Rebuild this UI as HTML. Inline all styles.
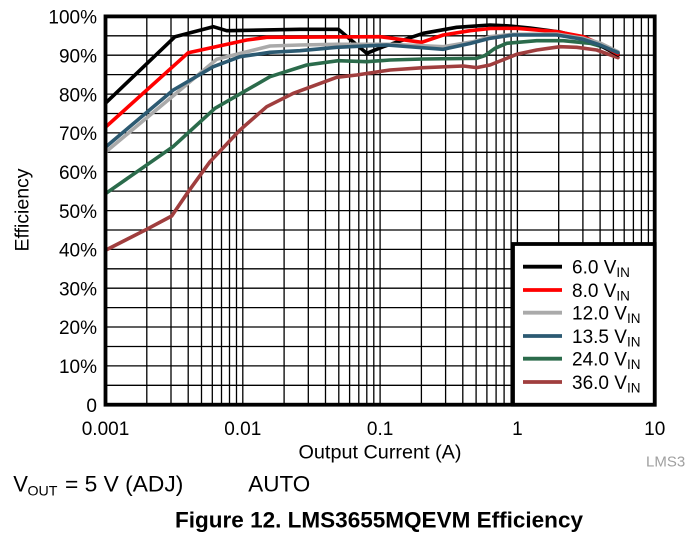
<!DOCTYPE html>
<html>
<head>
<meta charset="utf-8">
<style>
  html, body { margin: 0; padding: 0; background: #ffffff; }
  svg { display: block; }
  text { font-family: "Liberation Sans", Arial, sans-serif; fill: #000; }
</style>
</head>
<body>
<svg width="691" height="546" viewBox="0 0 691 546" xmlns="http://www.w3.org/2000/svg">
  <rect x="0" y="0" width="691" height="546" fill="#fff"/>

  <!-- horizontal gridlines every 5% -->
  <g stroke="#000" stroke-width="1.3">
    <line x1="105.5" x2="654.7" y1="35.8" y2="35.8"/>
    <line x1="105.5" x2="654.7" y1="55.2" y2="55.2"/>
    <line x1="105.5" x2="654.7" y1="74.6" y2="74.6"/>
    <line x1="105.5" x2="654.7" y1="94.1" y2="94.1"/>
    <line x1="105.5" x2="654.7" y1="113.5" y2="113.5"/>
    <line x1="105.5" x2="654.7" y1="132.9" y2="132.9"/>
    <line x1="105.5" x2="654.7" y1="152.3" y2="152.3"/>
    <line x1="105.5" x2="654.7" y1="171.7" y2="171.7"/>
    <line x1="105.5" x2="654.7" y1="191.1" y2="191.1"/>
    <line x1="105.5" x2="654.7" y1="210.6" y2="210.6"/>
    <line x1="105.5" x2="654.7" y1="230.0" y2="230.0"/>
    <line x1="105.5" x2="654.7" y1="249.4" y2="249.4"/>
    <line x1="105.5" x2="654.7" y1="268.8" y2="268.8"/>
    <line x1="105.5" x2="654.7" y1="288.2" y2="288.2"/>
    <line x1="105.5" x2="654.7" y1="307.6" y2="307.6"/>
    <line x1="105.5" x2="654.7" y1="327.0" y2="327.0"/>
    <line x1="105.5" x2="654.7" y1="346.5" y2="346.5"/>
    <line x1="105.5" x2="654.7" y1="365.9" y2="365.9"/>
    <line x1="105.5" x2="654.7" y1="385.3" y2="385.3"/>
  </g>

  <!-- vertical log gridlines -->
  <g stroke="#000" stroke-width="1.3">
    <!-- decade 0.001-0.01 -->
    <line y1="16.4" y2="404.7" x1="146.8" x2="146.8"/>
    <line y1="16.4" y2="404.7" x1="171.0" x2="171.0"/>
    <line y1="16.4" y2="404.7" x1="188.2" x2="188.2"/>
    <line y1="16.4" y2="404.7" x1="201.5" x2="201.5"/>
    <line y1="16.4" y2="404.7" x1="212.3" x2="212.3"/>
    <line y1="16.4" y2="404.7" x1="221.5" x2="221.5"/>
    <line y1="16.4" y2="404.7" x1="229.5" x2="229.5"/>
    <line y1="16.4" y2="404.7" x1="236.5" x2="236.5"/>
    <line y1="16.4" y2="404.7" x1="242.8" x2="242.8"/>
    <!-- decade 0.01-0.1 -->
    <line y1="16.4" y2="404.7" x1="284.1" x2="284.1"/>
    <line y1="16.4" y2="404.7" x1="308.3" x2="308.3"/>
    <line y1="16.4" y2="404.7" x1="325.5" x2="325.5"/>
    <line y1="16.4" y2="404.7" x1="338.8" x2="338.8"/>
    <line y1="16.4" y2="404.7" x1="349.6" x2="349.6"/>
    <line y1="16.4" y2="404.7" x1="358.8" x2="358.8"/>
    <line y1="16.4" y2="404.7" x1="366.8" x2="366.8"/>
    <line y1="16.4" y2="404.7" x1="373.8" x2="373.8"/>
    <line y1="16.4" y2="404.7" x1="380.1" x2="380.1"/>
    <!-- decade 0.1-1 -->
    <line y1="16.4" y2="404.7" x1="421.4" x2="421.4"/>
    <line y1="16.4" y2="404.7" x1="445.6" x2="445.6"/>
    <line y1="16.4" y2="404.7" x1="462.8" x2="462.8"/>
    <line y1="16.4" y2="404.7" x1="476.1" x2="476.1"/>
    <line y1="16.4" y2="404.7" x1="486.9" x2="486.9"/>
    <line y1="16.4" y2="404.7" x1="496.1" x2="496.1"/>
    <line y1="16.4" y2="404.7" x1="504.1" x2="504.1"/>
    <line y1="16.4" y2="404.7" x1="511.1" x2="511.1"/>
    <line y1="16.4" y2="404.7" x1="517.4" x2="517.4"/>
    <!-- decade 1-10 -->
    <line y1="16.4" y2="404.7" x1="558.7" x2="558.7"/>
    <line y1="16.4" y2="404.7" x1="582.9" x2="582.9"/>
    <line y1="16.4" y2="404.7" x1="600.1" x2="600.1"/>
    <line y1="16.4" y2="404.7" x1="613.4" x2="613.4"/>
    <line y1="16.4" y2="404.7" x1="624.2" x2="624.2"/>
    <line y1="16.4" y2="404.7" x1="633.4" x2="633.4"/>
    <line y1="16.4" y2="404.7" x1="641.4" x2="641.4"/>
    <line y1="16.4" y2="404.7" x1="648.4" x2="648.4"/>
  </g>

  <!-- data series -->
  <g fill="none" stroke-width="3.6" stroke-linejoin="round" stroke-linecap="round">
    <!-- 36.0 V brown -->
    <polyline stroke="#a03e3e" points="106,250 146.7,229.3 171.7,216 188.3,191.7 210,161.7 240,130 266.7,106.7 293.3,93.3 336.7,77.3 356.7,75 390,70 423.3,67.7 463.3,66 476.7,67.6 490,65 500,61 516.7,54.3 536.7,50 560,46.7 576.7,47.3 596.7,50 618,57.7"/>
    <!-- 24.0 V green -->
    <polyline stroke="#2b6b4b" points="106,193.3 173,146.7 215,108.3 270,76.7 306.7,65 338.3,60.7 366.7,61.7 390,60 423.3,59 476.7,58.3 485,55.5 495,48.3 506.7,43.3 536.7,40.7 563.3,40.7 590,43.3 605,47.5 618,53.3"/>
    <!-- 6.0 V black -->
    <polyline stroke="#000000" points="106,102.7 175,36.7 213.3,26.7 226.7,30.7 300,29.3 338.3,29.3 366.7,53.3 383.3,46.7 423.3,33.3 456.7,27.3 490,25 510,26 530,28 560,32 590,40 618,55"/>
    <!-- 8.0 V red -->
    <polyline stroke="#ff0000" points="106,126.7 188.3,52.7 246.7,40 266.7,37.3 380,36.7 421.7,42.3 443.3,35 470,30.7 490,28.5 516.7,28.3 556.7,31.7 583.3,36.7 600,44 618,54"/>
    <!-- 12.0 V gray -->
    <polyline stroke="#aaaaaa" points="106,151.7 173,96 216.7,59.3 270,46 300,45 336.7,44.3 390,44.3 443.3,46.7 473.3,41.7 490,36.7 513.3,34.3 556.7,34 583.3,38.3 600,43 618,51.7"/>
    <!-- 13.5 V blue -->
    <polyline stroke="#2c5a72" points="106,146.7 173.3,90 213.3,66.7 240,56.7 270,52.3 300,50.7 336.7,47.3 386.7,45 443.3,49.3 470,43.5 490,38.3 513,35 556.7,35 583,39.3 600,45 618,52.7"/>
  </g>

  <!-- plot border -->
  <rect x="105.5" y="16.4" width="549.2" height="388.3" fill="none" stroke="#000" stroke-width="3.8"/>

  <!-- legend -->
  <rect x="513" y="244" width="141.7" height="160.7" fill="#fff" stroke="#000" stroke-width="3.8"/>
  <g stroke-width="3.8">
    <line x1="523" x2="562" y1="266.7" y2="266.7" stroke="#000000"/>
    <line x1="523" x2="562" y1="290" y2="290" stroke="#ff0000"/>
    <line x1="523" x2="562" y1="312.7" y2="312.7" stroke="#aaaaaa"/>
    <line x1="523" x2="562" y1="336" y2="336" stroke="#2c5a72"/>
    <line x1="523" x2="562" y1="358.7" y2="358.7" stroke="#2b6b4b"/>
    <line x1="523" x2="562" y1="382" y2="382" stroke="#a03e3e"/>
  </g>
  <g font-size="19">
    <text x="572" y="273.5">6.0 V<tspan font-size="13.5" dy="3.5">IN</tspan></text>
    <text x="572" y="296.8">8.0 V<tspan font-size="13.5" dy="3.5">IN</tspan></text>
    <text x="572" y="319.5">12.0 V<tspan font-size="13.5" dy="3.5">IN</tspan></text>
    <text x="572" y="342.8">13.5 V<tspan font-size="13.5" dy="3.5">IN</tspan></text>
    <text x="572" y="365.5">24.0 V<tspan font-size="13.5" dy="3.5">IN</tspan></text>
    <text x="572" y="388.8">36.0 V<tspan font-size="13.5" dy="3.5">IN</tspan></text>
  </g>

  <!-- y tick labels -->
  <g font-size="19" text-anchor="end">
    <text x="97" y="23.5">100%</text>
    <text x="97" y="62.5">90%</text>
    <text x="97" y="101.3">80%</text>
    <text x="97" y="140.1">70%</text>
    <text x="97" y="179">60%</text>
    <text x="97" y="217.8">50%</text>
    <text x="97" y="256.6">40%</text>
    <text x="97" y="295.4">30%</text>
    <text x="97" y="334.2">20%</text>
    <text x="97" y="373.1">10%</text>
    <text x="97" y="411.8">0</text>
  </g>

  <!-- x tick labels -->
  <g font-size="19" text-anchor="middle">
    <text x="105.5" y="435">0.001</text>
    <text x="242.8" y="435">0.01</text>
    <text x="380.1" y="435">0.1</text>
    <text x="517.4" y="435">1</text>
    <text x="654.7" y="435">10</text>
  </g>

  <!-- axis titles -->
  <text x="298.5" y="458.3" font-size="19.5" textLength="163" lengthAdjust="spacingAndGlyphs">Output Current (A)</text>
  <text transform="translate(28.3,210) rotate(-90)" font-size="19.5" text-anchor="middle">Efficiency</text>

  <text x="646" y="466.7" font-size="15" style="fill:#a0a0a0">LMS3</text>

  <!-- conditions -->
  <text x="13.3" y="491.7" font-size="22">V</text>
  <text x="27.5" y="495.5" font-size="14" textLength="30" lengthAdjust="spacingAndGlyphs">OUT</text>
  <text x="65" y="491.7" font-size="22.5" textLength="118.3" lengthAdjust="spacingAndGlyphs">= 5 V (ADJ)</text>
  <text x="248.3" y="491.7" font-size="22.5" textLength="62" lengthAdjust="spacingAndGlyphs">AUTO</text>

  <!-- figure caption -->
  <text x="175" y="527.3" font-size="22" font-weight="bold" textLength="408" lengthAdjust="spacingAndGlyphs">Figure 12. LMS3655MQEVM Efficiency</text>
</svg>
</body>
</html>
